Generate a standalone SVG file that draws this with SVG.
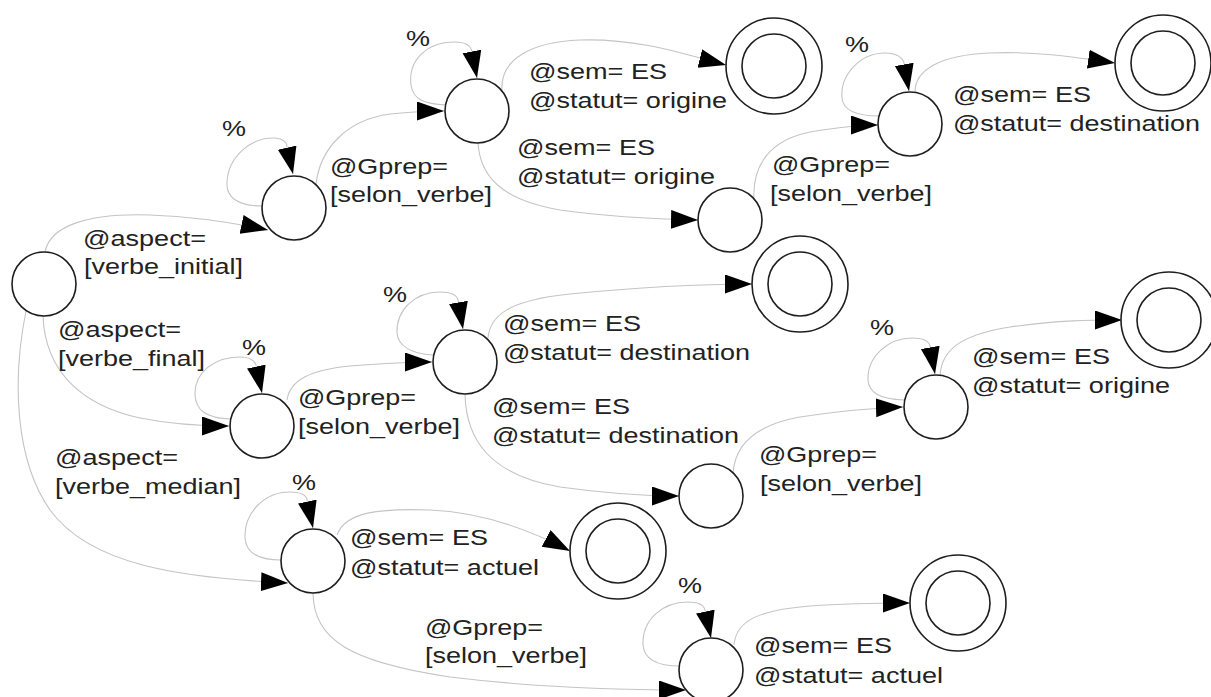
<svg xmlns="http://www.w3.org/2000/svg" width="1211" height="697" viewBox="0 0 1211 697">
<style>
.n{fill:#fff;stroke:#1e1e1e;stroke-width:1.6}
.e{fill:none;stroke:#c4c4c4;stroke-width:1.1;marker-end:url(#ah)}
.t{font-family:"Liberation Sans",Arial,sans-serif;font-size:22px;fill:#222}
</style>
<defs>
<marker id="ah" markerUnits="userSpaceOnUse" markerWidth="28" markerHeight="20" refX="27" refY="9.5" orient="auto" viewBox="0 0 28 20">
<path d="M0,0 L27,9.5 L0,19 z" fill="#000"/>
</marker>
</defs>
<rect width="1211" height="697" fill="#fff"/>
<g id="connectors">
<path class="e" d="M45,252 C50,225 90,213 150,215 C200,217 240,224 268,230"/>
<path class="e" d="M262,206 C236,206 226,196 227,182 C228,158 250,137 275,138 C284,139 287,143 287,147 L293,174"/>
<path class="e" d="M316,184 C320,150 345,120 390,114 C410,112 425,111 444,111"/>
<path class="e" d="M446,105 C425,104 413,100 411,85 C408,62 425,42 455,42 C465,42 471,46 472,52 L477,78"/>
<path class="e" d="M502,90 C500,60 530,42 580,40 C640,38 690,56 726,65"/>
<path class="e" d="M478,143 C480,175 500,200 560,210 C610,217 650,219 698,220"/>
<path class="e" d="M754,200 C752,165 770,140 810,132 C840,127 860,125 878,125"/>
<path class="e" d="M880,116 C855,116 843,110 842,98 C840,75 860,53 885,53 C897,53 903,58 904,63 L909,91"/>
<path class="e" d="M915,92 C915,70 940,55 990,53 C1040,51 1080,58 1115,63"/>
<path class="e" d="M43,316 C45,370 80,405 140,418 C170,424 200,426 229,426"/>
<path class="e" d="M231,419 C205,418 196,410 195,395 C194,372 215,357 240,357 C250,357 255,361 256,365 L262,393"/>
<path class="e" d="M287,400 C290,380 310,370 350,366 C390,363 410,362 432,362"/>
<path class="e" d="M433,355 C410,354 398,345 397,333 C396,310 415,292 440,292 C452,292 457,296 458,300 L463,329"/>
<path class="e" d="M488,338 C490,315 510,300 570,294 C640,287 700,284 752,284"/>
<path class="e" d="M465,394 C466,440 490,475 560,487 C610,494 650,496 679,496"/>
<path class="e" d="M733,473 C735,445 755,425 800,417 C840,411 870,408 903,407"/>
<path class="e" d="M904,400 C880,399 869,393 868,380 C867,357 888,338 912,338 C924,338 929,342 930,346 L935,374"/>
<path class="e" d="M940,375 C942,350 960,335 1010,327 C1060,320 1090,320 1122,320"/>
<path class="e" d="M26,311 C12,380 15,460 50,510 C90,565 180,578 288,583"/>
<path class="e" d="M281,560 C258,560 246,552 245,538 C244,512 265,492 290,492 C302,492 307,496 307,500 L313,528"/>
<path class="e" d="M337,535 C345,512 380,508 430,510 C480,512 530,530 570,551"/>
<path class="e" d="M313,593 C314,640 350,662 450,677 C540,688 620,690 686,690"/>
<path class="e" d="M680,666 C656,666 644,658 643,645 C642,620 662,602 688,602 C700,602 704,606 705,610 L711,638"/>
<path class="e" d="M734,645 C736,620 760,610 810,606 C850,603 880,603 910,603"/>
</g>
<g id="edge-labels" class="t">
<text x="83" y="246" textLength="123" lengthAdjust="spacingAndGlyphs">@aspect=</text>
<text x="84" y="274" textLength="159" lengthAdjust="spacingAndGlyphs">[verbe_initial]</text>
<text x="222" y="136" textLength="24" lengthAdjust="spacingAndGlyphs">%</text>
<text x="330" y="174" textLength="118" lengthAdjust="spacingAndGlyphs">@Gprep=</text>
<text x="330" y="202" textLength="162" lengthAdjust="spacingAndGlyphs">[selon_verbe]</text>
<text x="406" y="46" textLength="24" lengthAdjust="spacingAndGlyphs">%</text>
<text x="529" y="79" textLength="138" lengthAdjust="spacingAndGlyphs">@sem= ES</text>
<text x="529" y="108" textLength="198" lengthAdjust="spacingAndGlyphs">@statut= origine</text>
<text x="517" y="155" textLength="138" lengthAdjust="spacingAndGlyphs">@sem= ES</text>
<text x="517" y="184" textLength="198" lengthAdjust="spacingAndGlyphs">@statut= origine</text>
<text x="772" y="172" textLength="118" lengthAdjust="spacingAndGlyphs">@Gprep=</text>
<text x="770" y="201" textLength="162" lengthAdjust="spacingAndGlyphs">[selon_verbe]</text>
<text x="845" y="52" textLength="24" lengthAdjust="spacingAndGlyphs">%</text>
<text x="953" y="102" textLength="138" lengthAdjust="spacingAndGlyphs">@sem= ES</text>
<text x="953" y="131" textLength="247" lengthAdjust="spacingAndGlyphs">@statut= destination</text>
<text x="58" y="337" textLength="123" lengthAdjust="spacingAndGlyphs">@aspect=</text>
<text x="58" y="366" textLength="147" lengthAdjust="spacingAndGlyphs">[verbe_final]</text>
<text x="242" y="355" textLength="24" lengthAdjust="spacingAndGlyphs">%</text>
<text x="298" y="405" textLength="118" lengthAdjust="spacingAndGlyphs">@Gprep=</text>
<text x="298" y="434" textLength="162" lengthAdjust="spacingAndGlyphs">[selon_verbe]</text>
<text x="383" y="302" textLength="24" lengthAdjust="spacingAndGlyphs">%</text>
<text x="503" y="331" textLength="138" lengthAdjust="spacingAndGlyphs">@sem= ES</text>
<text x="503" y="360" textLength="247" lengthAdjust="spacingAndGlyphs">@statut= destination</text>
<text x="492" y="414" textLength="138" lengthAdjust="spacingAndGlyphs">@sem= ES</text>
<text x="492" y="443" textLength="247" lengthAdjust="spacingAndGlyphs">@statut= destination</text>
<text x="759" y="462" textLength="118" lengthAdjust="spacingAndGlyphs">@Gprep=</text>
<text x="760" y="491" textLength="162" lengthAdjust="spacingAndGlyphs">[selon_verbe]</text>
<text x="870" y="335" textLength="24" lengthAdjust="spacingAndGlyphs">%</text>
<text x="972" y="364" textLength="138" lengthAdjust="spacingAndGlyphs">@sem= ES</text>
<text x="972" y="393" textLength="198" lengthAdjust="spacingAndGlyphs">@statut= origine</text>
<text x="55" y="465" textLength="123" lengthAdjust="spacingAndGlyphs">@aspect=</text>
<text x="55" y="494" textLength="186" lengthAdjust="spacingAndGlyphs">[verbe_median]</text>
<text x="292" y="490" textLength="24" lengthAdjust="spacingAndGlyphs">%</text>
<text x="350" y="545" textLength="138" lengthAdjust="spacingAndGlyphs">@sem= ES</text>
<text x="350" y="575" textLength="189" lengthAdjust="spacingAndGlyphs">@statut= actuel</text>
<text x="425" y="635" textLength="118" lengthAdjust="spacingAndGlyphs">@Gprep=</text>
<text x="425" y="663" textLength="162" lengthAdjust="spacingAndGlyphs">[selon_verbe]</text>
<text x="678" y="593" textLength="24" lengthAdjust="spacingAndGlyphs">%</text>
<text x="754" y="653" textLength="138" lengthAdjust="spacingAndGlyphs">@sem= ES</text>
<text x="754" y="683" textLength="189" lengthAdjust="spacingAndGlyphs">@statut= actuel</text>
</g>
<g id="n0"><circle class="n" cx="44" cy="284" r="32"/></g>
<g id="n1"><circle class="n" cx="294" cy="208" r="32"/></g>
<g id="n2"><circle class="n" cx="477" cy="111" r="32"/></g>
<g id="f1"><circle class="n" cx="774" cy="66" r="48"/><circle class="n" cx="774" cy="66" r="32"/></g>
<g id="n3"><circle class="n" cx="730" cy="220" r="32"/></g>
<g id="n4"><circle class="n" cx="910" cy="124" r="32"/></g>
<g id="f2"><circle class="n" cx="1163" cy="63" r="48"/><circle class="n" cx="1163" cy="63" r="32"/></g>
<g id="n5"><circle class="n" cx="262" cy="426" r="32"/></g>
<g id="n6"><circle class="n" cx="465" cy="362" r="32"/></g>
<g id="f3"><circle class="n" cx="800" cy="284" r="48"/><circle class="n" cx="800" cy="284" r="32"/></g>
<g id="n7"><circle class="n" cx="936" cy="407" r="32"/></g>
<g id="f4"><circle class="n" cx="1169" cy="320" r="48"/><circle class="n" cx="1169" cy="320" r="32"/></g>
<g id="n8"><circle class="n" cx="711" cy="496" r="32"/></g>
<g id="f5"><circle class="n" cx="618" cy="551" r="48"/><circle class="n" cx="618" cy="551" r="32"/></g>
<g id="n9"><circle class="n" cx="313" cy="561" r="32"/></g>
<g id="n10"><circle class="n" cx="711" cy="670" r="32"/></g>
<g id="f6"><circle class="n" cx="958" cy="603" r="48"/><circle class="n" cx="958" cy="603" r="32"/></g>
</svg>
